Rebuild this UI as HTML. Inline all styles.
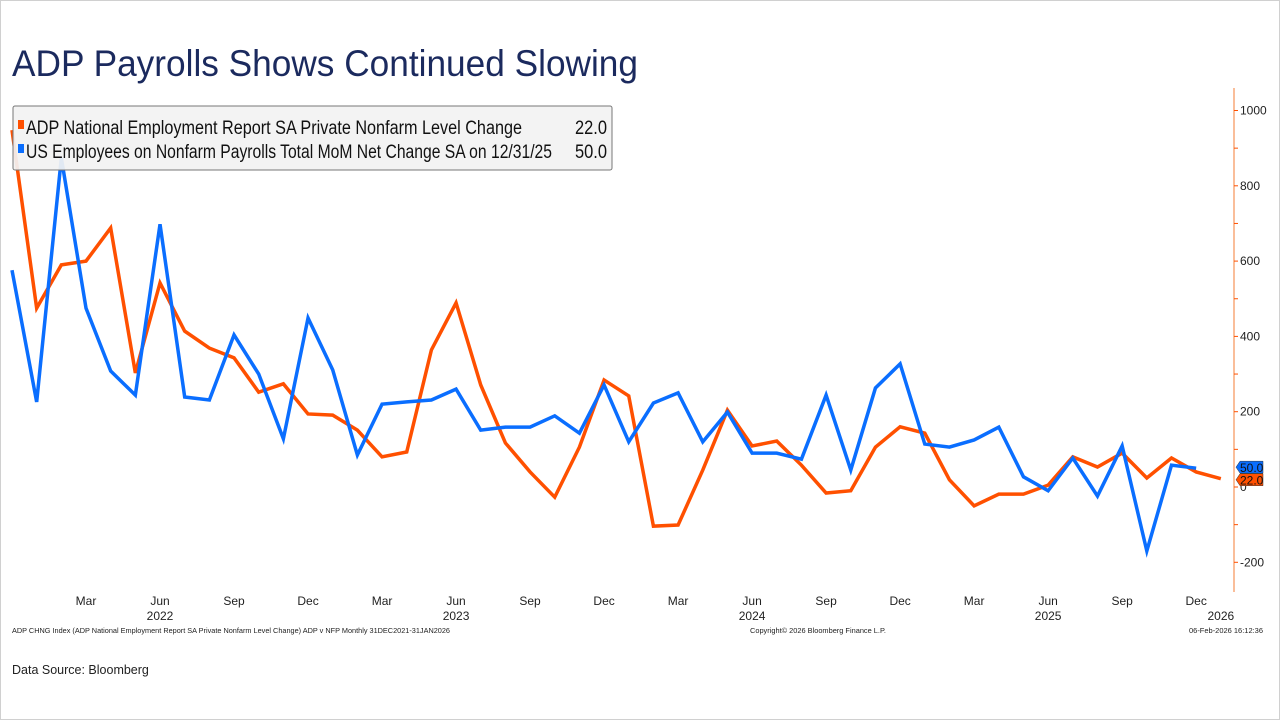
<!DOCTYPE html>
<html><head><meta charset="utf-8"><style>
html,body{margin:0;padding:0;background:#fff;}
svg{display:block;font-family:"Liberation Sans",sans-serif;}
</style></head><body>
<svg id="chart" width="1280" height="720" viewBox="0 0 1280 720">
<rect x="0.5" y="0.5" width="1279" height="719" fill="#fff" stroke="#d0d0d0"/>
<text x="12" y="76" font-size="37" fill="#1b2a5e" textLength="626" lengthAdjust="spacingAndGlyphs">ADP Payrolls Shows Continued Slowing</text>
<g id="axis"></g>
<g id="xaxis"></g>
<g id="series"></g>
<g>
<rect x="13" y="106" width="599" height="64" fill="#f2f2f2" fill-opacity="0.93" stroke="#777" rx="2"/>
<rect x="18" y="120" width="6" height="9" fill="#ff5000"/>
<text x="26" y="134" font-size="19" fill="#111" textLength="496" lengthAdjust="spacingAndGlyphs">ADP National Employment Report SA Private Nonfarm Level Change</text>
<text x="575" y="134" font-size="19" fill="#111" textLength="32" lengthAdjust="spacingAndGlyphs">22.0</text>
<rect x="18" y="144" width="6" height="9" fill="#0a6eff"/>
<text x="26" y="158" font-size="19" fill="#111" textLength="526" lengthAdjust="spacingAndGlyphs">US Employees on Nonfarm Payrolls Total MoM Net Change SA on 12/31/25</text>
<text x="575" y="158" font-size="19" fill="#111" textLength="32" lengthAdjust="spacingAndGlyphs">50.0</text>
</g>
<text x="12" y="633" font-size="7.5" fill="#222" textLength="438" lengthAdjust="spacingAndGlyphs">ADP CHNG Index (ADP National Employment Report SA Private Nonfarm Level Change) ADP v NFP Monthly 31DEC2021-31JAN2026</text>
<text x="750" y="633" font-size="7.5" fill="#222" textLength="136" lengthAdjust="spacingAndGlyphs">Copyright© 2026 Bloomberg Finance L.P.</text>
<text x="1263" y="633" font-size="7.5" fill="#222" text-anchor="end" textLength="74" lengthAdjust="spacingAndGlyphs">06-Feb-2026 16:12:36</text>
<text x="12" y="674" font-size="12.5" fill="#222">Data Source: Bloomberg</text>
</svg>
<script>
const adpValues=[948,475,590,600,688,303,542,414,369,343,252,274,194,191,151,80,93,364,489,271,117,40,-27,106,284,242,-104,-101,45,204,109,122,58,-16,-10,106,160,143,19,-50,-19,-19,5,80,53,90,24,77,40,22];
const nfpValues=[576,226,874,475,308,244,698,239,231,404,300,128,449,311,85,220,226,231,260,151,159,159,189,143,271,120,223,250,120,199,90,90,74,244,45,263,327,114,106,125,159,27,-10,77,-24,109,-170,58,50];
const yTicks=[1000,800,600,400,200,0,-200];
const xMonthLabels=["Mar","Jun","Sep","Dec","Mar","Jun","Sep","Dec","Mar","Jun","Sep","Dec","Mar","Jun","Sep","Dec"];
const xMonthIdx=[3,6,9,12,15,18,21,24,27,30,33,36,39,42,45,48];
const yearLabels=["2022","2023","2024","2025","2026"];
const yearIdx=[6,18,30,42,49];
const NS="http://www.w3.org/2000/svg";
function X(i){return 12+i*24.67;}
function Y(v){return 487-v*0.3765;}
function mk(tag,attrs,parent){const e=document.createElementNS(NS,tag);for(const k in attrs)e.setAttribute(k,attrs[k]);parent.appendChild(e);return e;}
const ax=document.getElementById('axis');
let l=mk('line',{x1:1234,x2:1234,y1:88,y2:592,stroke:'#f8a878','stroke-width':1.5},ax);


for(let v=-200;v<=1000;v+=100){
  const t=mk('line',{x1:1234,x2:1238,y1:Y(v),y2:Y(v),stroke:'#ff5000','stroke-width':1},ax);
  
  
}
yTicks.forEach(v=>{
  const t=mk('text',{x:1240,y:Y(v)+4,'font-size':12,fill:'#222'},ax);
  t.textContent=v;
  
  
});
const xa=document.getElementById('xaxis');
xMonthLabels.forEach((s,k)=>{
  const t=mk('text',{x:X(xMonthIdx[k]),y:605,'font-size':12,fill:'#222','text-anchor':'middle'},xa);
  t.textContent=s;
  
  
});
yearLabels.forEach((s,k)=>{
  const t=mk('text',{x:X(yearIdx[k]),y:620,'font-size':12,fill:'#222','text-anchor':'middle'},xa);
  t.textContent=s;
  
  
});
const sg=document.getElementById('series');
function line(vals,color,name){
  const p=mk('polyline',{points:vals.map((v,i)=>X(i)+','+Y(v)).join(' '),fill:'none',stroke:color,'stroke-width':3.5,'stroke-linejoin':'miter'},sg);
  
  
}
line(adpValues,'#ff5000','adp-line');
line(nfpValues,'#0a6eff','nfp-line');
function tag(v,y,color,name){
  const g=mk('g',{},sg);
  
  
  mk('path',{d:`M1236 ${y} l4 -6 h23 v12 h-23 z`,fill:color,stroke:'#333','stroke-width':0.5},g);
  const t=mk('text',{x:1240,y:y+5,'font-size':12,fill:'#111'},g);
  t.textContent=v.toFixed(1);
}
tag(nfpValues[nfpValues.length-1],Y(nfpValues[nfpValues.length-1])-1,'#0a6eff','nfp-value-tag');
tag(adpValues[adpValues.length-1],Y(adpValues[adpValues.length-1])+1,'#ff5000','adp-value-tag');
</script>
</body></html>
